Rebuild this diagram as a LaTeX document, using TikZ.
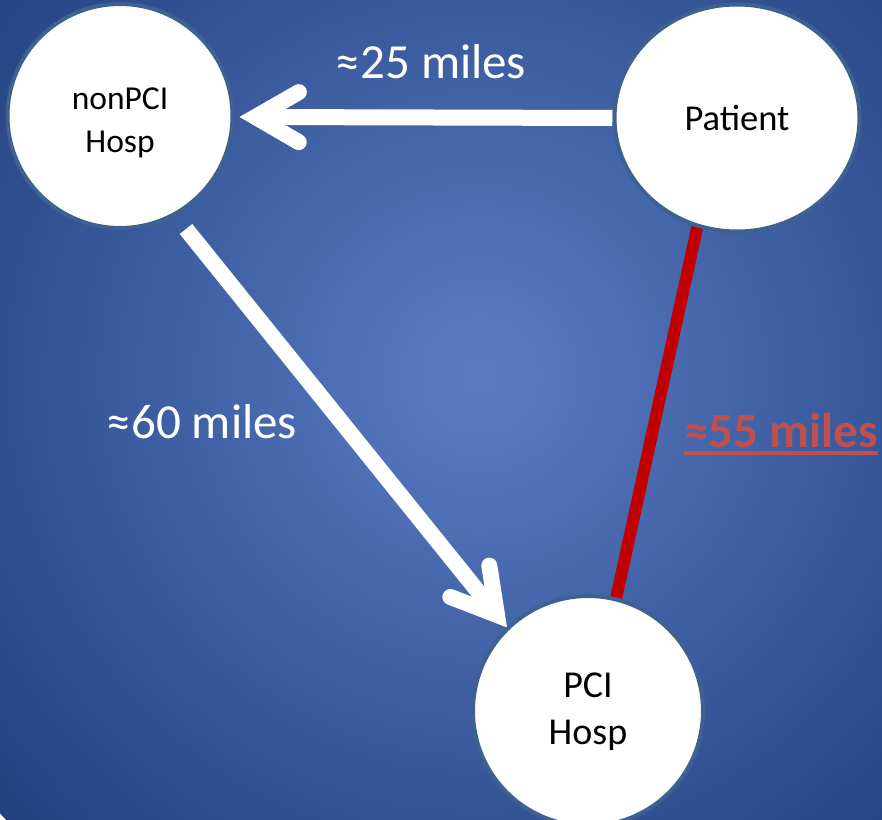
\documentclass[tikz,border=0pt]{standalone}
\usepackage{fontspec}
\setmainfont{Carlito}
\usetikzlibrary{calc,shapes.geometric}
\definecolor{bgin}{HTML}{5B7CC5}
\definecolor{bgout}{HTML}{21407E}
\definecolor{rim}{HTML}{3E6190}
\definecolor{redline}{HTML}{C00000}
\definecolor{redtext}{HTML}{C0504D}
\pgfdeclarelayer{back}
\pgfdeclarelayer{lines}
\pgfsetlayers{back,lines,main}
\begin{document}
\begin{tikzpicture}[x=1pt,y=-1pt,
  place/.style={draw=rim, line width=4pt, fill=white, ellipse, inner sep=0pt, align=center},
  conn/.style={white, line width=16pt},
  head/.style={white, line width=16pt, line cap=round, line join=miter},
  dist/.style={white, anchor=base, inner sep=0pt, font=\fontsize{49}{58}\selectfont}]
\useasboundingbox (0,0) rectangle (882,819);
\begin{pgfonlayer}{back}
  \clip (0,0) rectangle (882,819);
  \shade[inner color=bgin, outer color=bgout] (480,375) circle (650pt);
\end{pgfonlayer}

\node[place, minimum width=225pt, minimum height=224pt, font=\fontsize{33.5}{43.5}\selectfont] (N) at (120,116) {\rule{0pt}{35pt}nonPCI\\Hosp};
\node[place, minimum width=245pt, minimum height=227pt, font=\fontsize{36.5}{44}\selectfont] (P) at (737,118) {Patient};
\node[place, minimum width=230pt, minimum height=230pt, font=\fontsize{38}{46.7}\selectfont] (H) at (588,711) {\rule{0pt}{26pt}PCI\\Hosp};

\coordinate (v1) at ($(N.east)+(21,1)$);
\coordinate (s2) at (186,229);
\coordinate (v2) at (497,615);

\begin{pgfonlayer}{lines}
  \draw[redline, line width=12pt] (P.-110) -- (H.76);
  \draw[conn] (P.west) -- (v1);
  \draw[head] ($(v1)!50pt!30:(P.west)$) -- (v1) -- ($(v1)!50pt!-30:(P.west)$);
  \draw[conn] (s2) -- (v2);
  \draw[head] ($(v2)!50pt!30:(s2)$) -- (v2) -- ($(v2)!50pt!-30:(s2)$);
\end{pgfonlayer}

\node[dist] (l25) at (431,78) {≈25 miles};
\node[dist] (l60) at (202,438) {≈60 miles};
\node[dist, text=redtext, font=\fontsize{49}{58}\selectfont\bfseries] (l55) at (781,447) {≈55 miles};
\draw[redtext, line width=4pt] ($(l55.base west)+(0,6)$) -- ($(l55.base east)+(0,6)$);
\end{tikzpicture}
\end{document}
